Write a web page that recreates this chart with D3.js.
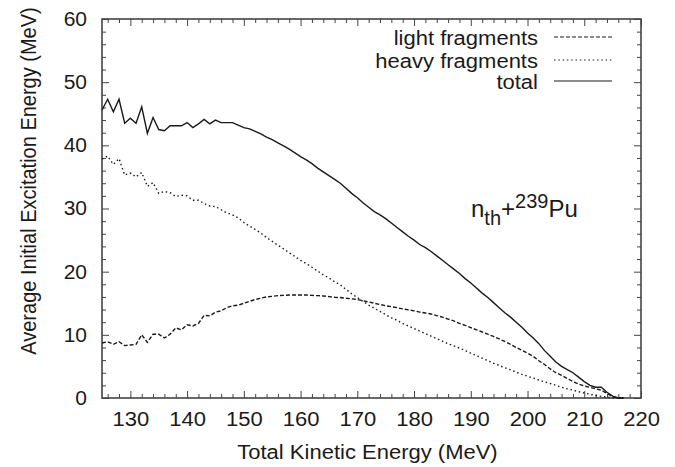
<!DOCTYPE html>
<html>
<head>
<meta charset="utf-8">
<script src="https://cdn.jsdelivr.net/npm/d3@7"></script>
<style>
  html, body { margin: 0; padding: 0; background: #fff; }
  svg { display: block; font-family: "Liberation Sans", Arial, Helvetica, sans-serif; }
</style>
</head>
<body>
<svg id="chart" width="675" height="467"></svg>
<script>
// ---- data ----
const tke = d3.range(125, 218); // 125 .. 217 MeV
const lightFragments = [
  8.7, 8.9, 8.5, 8.9, 8.3, 8.4, 8.5, 10.0, 8.8, 10.1,
  10.1, 9.5, 10.1, 11.1, 10.8, 11.6, 11.4, 11.8, 13.1, 13.0,
  13.6, 13.8, 14.3, 14.6, 14.7, 15.0, 15.3, 15.6, 15.8, 16.0,
  16.1, 16.2, 16.25, 16.3, 16.3, 16.3, 16.3, 16.25, 16.2, 16.15,
  16.05, 15.95, 15.9, 15.8, 15.7, 15.6, 15.4, 15.2, 15.0, 14.8,
  14.6, 14.45, 14.3, 14.1, 13.95, 13.8, 13.6, 13.45, 13.3, 13.05,
  12.8, 12.5, 12.2, 11.8, 11.5, 11.15, 10.8, 10.45, 10.1, 9.75,
  9.35, 8.95, 8.5, 8.0, 7.55, 7.1, 6.6, 5.9, 5.3, 4.6,
  4.0, 3.6, 3.1, 2.6, 2.2, 1.9, 1.7, 1.45, 1.25, 0.7,
  0.2, 0, 0
];
const heavyFragments = [
  37.8, 38.3, 37.0, 37.9, 35.3, 35.6, 35.0, 35.7, 33.5, 34.1,
  32.4, 32.7, 32.5, 31.9, 32.1, 32.0, 31.3, 31.3, 30.8, 30.4,
  30.3, 29.8, 29.3, 29.0, 28.5, 27.8, 27.2, 26.7, 26.1, 25.4,
  24.8, 24.2, 23.6, 23.0, 22.4, 21.8, 21.3, 20.7, 20.1, 19.5,
  19.0, 18.4, 17.9, 17.2, 16.5, 15.9, 15.3, 14.7, 14.2, 13.7,
  13.2, 12.7, 12.3, 11.8, 11.4, 11.0, 10.6, 10.2, 9.8, 9.4,
  9.0, 8.6, 8.25, 7.9, 7.5, 7.1, 6.7, 6.3, 5.9, 5.5,
  5.15, 4.8, 4.45, 4.1, 3.75, 3.45, 3.15, 2.85, 2.55, 2.3,
  2.0, 1.7, 1.45, 1.25, 1.0, 0.8, 0.6, 0.4, 0.25, 0.12,
  0.05, 0, 0
];
const totalEnergy = [
  45.6, 47.3, 45.3, 47.3, 43.5, 44.3, 43.5, 46.1, 41.9, 44.4,
  42.5, 42.3, 43.1, 43.1, 43.1, 43.6, 42.8, 43.4, 44.1, 43.4,
  44.0, 43.6, 43.6, 43.6, 43.2, 42.8, 42.6, 42.2, 41.8, 41.3,
  40.9, 40.4, 39.9, 39.4, 38.8, 38.2, 37.7, 37.1, 36.4, 35.8,
  35.2, 34.6, 34.0, 33.2, 32.4, 31.7, 30.9, 30.2, 29.5, 29.0,
  28.4, 27.7, 27.0, 26.3, 25.6, 25.0, 24.3, 23.8, 23.2, 22.5,
  21.8, 21.1, 20.4, 19.7, 18.9, 18.2, 17.4, 16.6, 15.9, 15.1,
  14.3, 13.5, 12.8, 12.0, 11.2, 10.3, 9.5, 8.6, 7.5, 6.6,
  5.7, 5.0, 4.5, 4.0, 3.3, 2.6, 2.0, 1.7, 1.7, 0.9,
  0.3, 0, 0
];
const xTicks = [130, 140, 150, 160, 170, 180, 190, 200, 210, 220];
const yTicks = [0, 10, 20, 30, 40, 50, 60];
const seriesNames = ["light fragments", "heavy fragments", "total"];

// ---- layout ----
const svg = d3.select("#chart");
const L = 102, R = 641, T = 19, B = 398;
const x = d3.scaleLinear().domain([125, 220]).range([L, R]);
const y = d3.scaleLinear().domain([0, 60]).range([B, T]);
const ink = "#1a1a1a";
const frame = "#444";
const FONT = "Liberation Sans, Arial, sans-serif";

const xMinor = d3.range(126, 221, 2).filter(v => v % 10 !== 0);
const yMinor = d3.range(2, 60, 2).filter(v => v % 10 !== 0);

// horizontally widen text glyphs (reference type is slightly wide)
function widen(sel, k) {
  sel.each(function () {
    const w = this.getComputedTextLength();
    d3.select(this).attr("textLength", w * k).attr("lengthAdjust", "spacingAndGlyphs");
  });
}

function styleAxis(g) {
  g.select(".domain").remove();
  g.selectAll(".tick line").attr("stroke", frame).attr("stroke-width", 1);
  g.selectAll(".tick text").attr("fill", ink);
}

// bottom major with labels
svg.append("g").attr("transform", `translate(0,${B})`)
  .call(d3.axisBottom(x).tickValues(xTicks).tickSize(-7).tickPadding(14).tickFormat(d3.format("d")))
  .call(styleAxis)
  .call(g => g.selectAll(".tick text").attr("font-size", 20).attr("font-family", FONT).call(widen, 1.1));
svg.append("g").attr("transform", `translate(0,${B})`)
  .call(d3.axisBottom(x).tickValues(xMinor).tickSize(-4).tickFormat(""))
  .call(styleAxis);
// top
svg.append("g").attr("transform", `translate(0,${T})`)
  .call(d3.axisTop(x).tickValues(xTicks).tickSize(-7).tickFormat(""))
  .call(styleAxis);
svg.append("g").attr("transform", `translate(0,${T})`)
  .call(d3.axisTop(x).tickValues(xMinor).tickSize(-4).tickFormat(""))
  .call(styleAxis);
// left
svg.append("g").attr("transform", `translate(${L},0)`)
  .call(d3.axisLeft(y).tickValues(yTicks).tickSize(-7).tickPadding(15).tickFormat(d3.format("d")))
  .call(styleAxis)
  .call(g => g.selectAll(".tick text").attr("font-size", 20).attr("font-family", FONT).call(widen, 1.05));
svg.append("g").attr("transform", `translate(${L},0)`)
  .call(d3.axisLeft(y).tickValues(yMinor).tickSize(-4).tickFormat(""))
  .call(styleAxis);
// right
svg.append("g").attr("transform", `translate(${R},0)`)
  .call(d3.axisRight(y).tickValues(yTicks).tickSize(-7).tickFormat(""))
  .call(styleAxis);
svg.append("g").attr("transform", `translate(${R},0)`)
  .call(d3.axisRight(y).tickValues(yMinor).tickSize(-4).tickFormat(""))
  .call(styleAxis);

// frame
svg.append("rect").attr("x", L).attr("y", T).attr("width", R - L).attr("height", B - T)
  .attr("fill", "none").attr("stroke", frame).attr("stroke-width", 1.6);

// ---- series ----
const styles = [
  { data: lightFragments, dash: "4,2" },
  { data: heavyFragments, dash: "1.5,2.8" },
  { data: totalEnergy, dash: null }
];
const line = d3.line().x((d, i) => x(tke[i])).y(d => y(d));
styles.forEach(s => {
  svg.append("path").datum(s.data)
    .attr("d", line)
    .attr("fill", "none")
    .attr("stroke", ink)
    .attr("stroke-width", 1.4)
    .attr("stroke-dasharray", s.dash);
});

// ---- legend ----
const legRows = [37, 60, 81];
seriesNames.forEach((name, i) => {
  svg.append("text")
    .attr("x", 538).attr("y", legRows[i] + 7.5)
    .attr("text-anchor", "end")
    .attr("font-size", 20)
    .attr("fill", ink)
    .text(name)
    .call(widen, 1.1);
  svg.append("line")
    .attr("x1", 554).attr("x2", 612)
    .attr("y1", legRows[i]).attr("y2", legRows[i])
    .attr("stroke", ink).attr("stroke-width", 1.2)
    .attr("stroke-dasharray", styles[i].dash);
});

// ---- annotation ----
const ann = svg.append("text").attr("x", 471).attr("y", 217).attr("fill", ink).attr("font-size", 24);
ann.append("tspan").text("n");
ann.append("tspan").attr("font-size", 20).attr("dy", 8).text("th");
ann.append("tspan").attr("dy", -8).text("+");
ann.append("tspan").attr("font-size", 20).attr("dy", -9).text("239");
ann.append("tspan").attr("dy", 9).text("Pu");

// ---- axis titles ----
svg.append("text")
  .attr("x", (L + R) / 2 - 4).attr("y", 459)
  .attr("text-anchor", "middle")
  .attr("font-size", 20)
  .attr("fill", ink)
  .text("Total Kinetic Energy (MeV)")
  .call(widen, 1.1);
svg.append("text")
  .attr("transform", `translate(36,${181}) rotate(-90) scale(1,1.1)`)
  .attr("text-anchor", "middle")
  .attr("font-size", 20)
  .attr("fill", ink)
  .text("Average Initial Excitation Energy (MeV)");
</script>
</body>
</html>
